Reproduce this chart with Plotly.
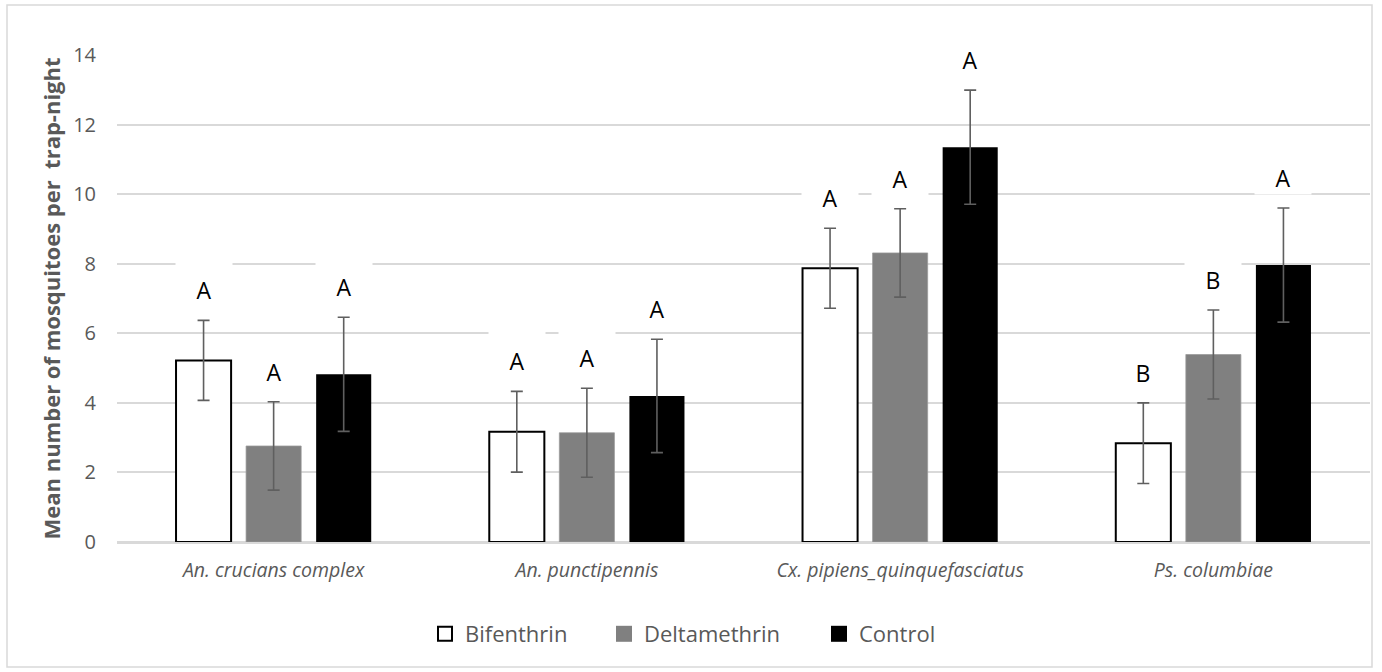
import plotly.graph_objects as go

# ---------------- data ----------------
categories = ["An. crucians complex", "An. punctipennis",
              "Cx. pipiens_quinquefasciatus", "Ps. columbiae"]
series_names = ["Bifenthrin", "Deltamethrin", "Control"]

bifenthrin = [5.22, 3.17, 7.87, 2.84]
bifenthrin_err = [1.15, 1.16, 1.15, 1.16]
bifenthrin_letters = ["A", "A", "A", "B"]

deltamethrin = [2.76, 3.14, 8.31, 5.39]
deltamethrin_err = [1.27, 1.28, 1.27, 1.28]
deltamethrin_letters = ["A", "A", "A", "B"]

control = [4.82, 4.20, 11.35, 7.96]
control_err = [1.64, 1.63, 1.64, 1.64]
control_letters = ["A", "A", "A", "A"]

y_ticks = [0, 2, 4, 6, 8, 10, 12, 14]
y_title = "Mean number of mosquitoes per\u00a0 trap-night"

# ---------------- styling ----------------
FONT = "Open Sans"
GREY_TXT = "#595959"
GRID = "#d9d9d9"
BARGAP = 0.329
BARGROUPGAP = 0.214

W, H = 1382, 672
ML, MR, MT, MB = 117, 12, 55, 130
PW, PH = W - ML - MR, H - MT - MB

styles = [
    dict(color="white", line=dict(color="black", width=2)),
    dict(color="#808080", line=dict(color="#9a9a9a", width=0.75)),
    dict(color="black", line=dict(color="black", width=0)),
]
legend_markers = [
    dict(symbol="square", size=14, color="white", line=dict(color="black", width=2)),
    dict(symbol="square", size=16, color="#808080", line=dict(width=0)),
    dict(symbol="square", size=16, color="black", line=dict(width=0)),
]
values = [bifenthrin, deltamethrin, control]
errs = [bifenthrin_err, deltamethrin_err, control_err]
letters = [bifenthrin_letters, deltamethrin_letters, control_letters]
legend_ids = ["legend", "legend2", "legend3"]

fig = go.Figure()
for i, name in enumerate(series_names):
    fig.add_trace(go.Bar(
        name=name, x=categories, y=values[i],
        marker=styles[i], showlegend=False,
        error_y=dict(type="data", array=errs[i], visible=True,
                     color="#5f5f5f", thickness=1.6, width=6),
    ))
# legend entries (square swatches)
for i, name in enumerate(series_names):
    fig.add_trace(go.Scatter(
        name=name, x=[None], y=[None], mode="markers",
        marker=legend_markers[i], showlegend=True, legend=legend_ids[i],
        hoverinfo="skip",
    ))

# letter labels above error bars
slot = (1 - BARGAP) / 3
annotations = []
for i in range(3):
    for j, cat in enumerate(categories):
        annotations.append(dict(
            x=j + (i - 1) * slot, y=values[i][j] + errs[i][j],
            xref="x", yref="y", text=letters[i][j], showarrow=False,
            yanchor="bottom", yshift=13, width=56, height=46,
            valign="bottom", bgcolor="white", borderpad=0,
            font=dict(family=FONT, size=23, color="black"),
        ))

# y-axis title
annotations.append(dict(
    x=(50 - ML) / PW, y=0.5, xref="paper", yref="paper",
    text="<b>" + y_title + "</b>", textangle=-90, showarrow=False,
    font=dict(family=FONT, size=22, color=GREY_TXT),
    xanchor="center", yanchor="middle",
))

# outer chart border
shapes = [dict(
    type="rect", xref="paper", yref="paper",
    x0=(7 - ML) / PW, x1=(1372 - ML) / PW,
    y0=(MT + PH - 667) / PH, y1=(MT + PH - 5) / PH,
    line=dict(color=GRID, width=1.5), fillcolor="rgba(0,0,0,0)", layer="below",
)]

leg_common = dict(orientation="h", yanchor="middle", xanchor="left",
                  y=(MT + PH - 634) / PH, bgcolor="rgba(0,0,0,0)",
                  font=dict(family=FONT, size=22, color=GREY_TXT))
leg_px = [425, 604, 819]

fig.update_layout(
    width=W, height=H,
    margin=dict(l=ML, r=MR, t=MT, b=MB),
    paper_bgcolor="white", plot_bgcolor="white",
    barmode="group", bargap=BARGAP, bargroupgap=BARGROUPGAP,
    font=dict(family=FONT, color=GREY_TXT),
    annotations=annotations, shapes=shapes,
    showlegend=True,
    legend=dict(x=(leg_px[0] - ML) / PW, **leg_common),
    legend2=dict(x=(leg_px[1] - ML) / PW, **leg_common),
    legend3=dict(x=(leg_px[2] - ML) / PW, **leg_common),
    xaxis=dict(
        showline=True, linecolor=GRID, linewidth=1.5,
        tickfont=dict(family=FONT, size=19.5, color=GREY_TXT, style="italic"),
        ticks="", ticklabelstandoff=10, showgrid=False,
    ),
    yaxis=dict(
        range=[0, 14], tickvals=y_ticks, showgrid=True, gridcolor=GRID,
        gridwidth=1.5, zeroline=True, zerolinecolor=GRID, zerolinewidth=1.5,
        tickfont=dict(family=FONT, size=20, color=GREY_TXT),
        ticks="", ticklabelstandoff=20,
    ),
)

fig.write_html("out.html",
               config={"displayModeBar": False},
               post_script="document.body.style.margin='0';document.body.style.overflow='hidden';")
